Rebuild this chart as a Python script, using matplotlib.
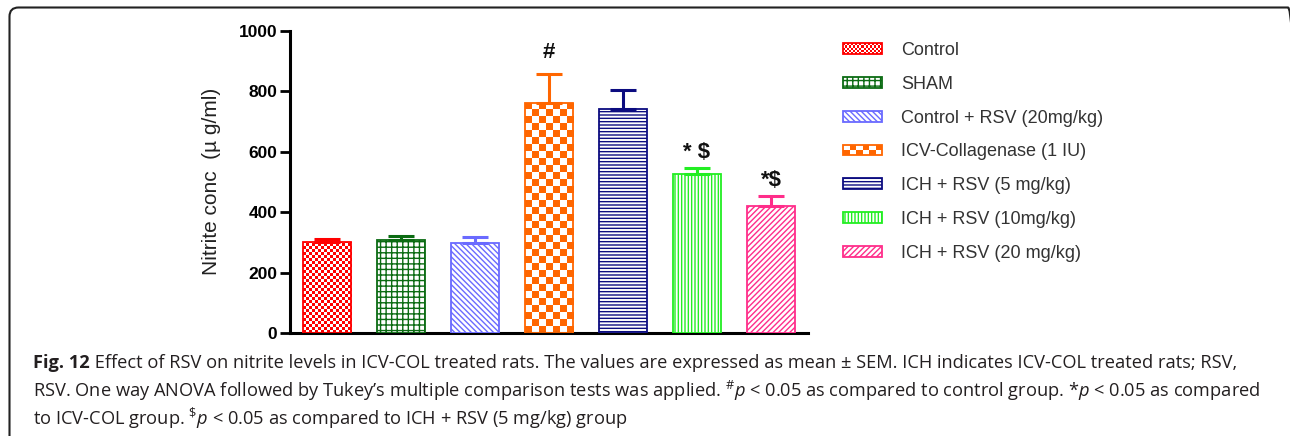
import numpy as np
import matplotlib
matplotlib.use("Agg")
import matplotlib.pyplot as plt
from matplotlib import font_manager
from matplotlib.colors import ListedColormap
from matplotlib.patches import Rectangle, FancyBboxPatch
from matplotlib.transforms import IdentityTransform
from matplotlib.legend_handler import HandlerBase

# ---- data -------------------------------------------------------------
groups = ["Control", "SHAM", "Control + RSV (20mg/kg)", "ICV-Collagenase (1 IU)",
          "ICH + RSV (5 mg/kg)", "ICH + RSV (10mg/kg)", "ICH + RSV (20 mg/kg)"]
nitrite_mean = [300, 308, 297, 760, 742, 527, 421]
nitrite_sem = [12, 13, 22, 97, 63, 18, 33]
sig_marks = ["", "", "", "#", "", "* $", "*$"]
y_ticks = [0, 200, 400, 600, 800, 1000]

caption_line1_bold = "Fig. 12"
caption_line1 = (" Effect of RSV on nitrite levels in ICV-COL treated rats. The values are "
                 "expressed as mean \u00b1 SEM. ICH indicates ICV-COL treated rats; RSV,")
caption_line2 = (r"RSV. One way ANOVA followed by Tukey’s multiple comparison tests was applied. "
                 r"$^{\#}p$ < 0.05 as compared to control group. *$p$ < 0.05 as compared")
caption_line3 = r"to ICV-COL group. $^{\$}p$ < 0.05 as compared to ICH + RSV (5 mg/kg) group"

# ---- styling ----------------------------------------------------------
colors = ["#ff0000", "#0b6b12", "#6a6aff", "#ff6600", "#0c0c80", "#22ee22", "#ff2d8a"]
hatches = [None, "+++", "\\" * 6, None, "-----", "|||||", "//////"]
checker_cell_px = {0: 3, 3: 7}      # bars filled with a checkerboard, cell size in px

plt.rcParams["font.family"] = ["Liberation Sans", "DejaVu Sans"]
plt.rcParams["hatch.linewidth"] = 1.0

names = {f.name for f in font_manager.fontManager.ttflist}
cap_font = next((n for n in ["Liberation Sans Narrow", "Open Sans"] if n in names), "DejaVu Sans")
plt.rcParams["mathtext.fontset"] = "custom"
plt.rcParams["mathtext.rm"] = cap_font
plt.rcParams["mathtext.it"] = cap_font + ":italic"
plt.rcParams["mathtext.bf"] = cap_font + ":bold"

W, H, DPI = 1290, 436, 100
fig = plt.figure(figsize=(W / DPI, H / DPI), dpi=DPI)
ax = fig.add_axes([290 / W, 1 - 333 / H, 518 / W, 302.3 / H])

x = np.arange(len(groups))
bar_width = 0.66
ax.set_xlim(-0.5, 6.5)
ax.set_ylim(0, 1000)

handles = []
for i in range(len(groups)):
    c = colors[i]
    checker = i in checker_cell_px
    bc = ax.bar(x[i], nitrite_mean[i], width=bar_width,
                facecolor="none" if checker else "white", edgecolor=c,
                hatch=hatches[i], linewidth=1.3, label=groups[i], zorder=3)
    handles.append(bc)
    ax.errorbar(x[i], nitrite_mean[i], yerr=[[0], [nitrite_sem[i]]], fmt="none",
                ecolor=c, elinewidth=2.2, capsize=9.5, capthick=2.2, zorder=4)

# checkerboard fills, clipped to their bars
px_x = ax.transData.transform((1, 0))[0] - ax.transData.transform((0, 0))[0]
px_y = ax.transData.transform((0, 1))[1] - ax.transData.transform((0, 0))[1]
for i, cell in checker_cell_px.items():
    bar = handles[i].patches[0]
    cw, ch = cell / px_x, cell / px_y
    nx = int(np.ceil(bar.get_width() / cw))
    ny = int(np.ceil(bar.get_height() / ch))
    pattern = np.add.outer(np.arange(ny), np.arange(nx)) % 2
    x0 = bar.get_x()
    im = ax.imshow(pattern, cmap=ListedColormap([colors[i], "white"]),
                   extent=(x0, x0 + nx * cw, 0, ny * ch), origin="lower",
                   interpolation="nearest", aspect="auto", zorder=2)
    im.set_clip_path(bar)

ax.set_xlim(-0.5, 6.5)
ax.set_ylim(0, 1000)

# significance marks above error bars
for i, mark in enumerate(sig_marks):
    if not mark:
        continue
    pad_px = 16 if mark == "#" else 10
    ax.annotate(mark, xy=(x[i], nitrite_mean[i] + nitrite_sem[i]),
                xytext=(0, pad_px * 72 / DPI), textcoords="offset points",
                ha="center", va="baseline", fontsize=16, fontweight="bold",
                color="#111111", zorder=5)

# axes
for side in ["top", "right"]:
    ax.spines[side].set_visible(False)
for side in ["left", "bottom"]:
    ax.spines[side].set_linewidth(2.2)
ax.set_xticks([])
ax.set_yticks(y_ticks)
ax.set_yticklabels([str(v) for v in y_ticks], fontweight="bold", fontsize=12.5)
ax.tick_params(axis="y", length=7, width=2, direction="out", pad=2)
ax.set_ylabel("Nitrite conc  (\u00b5 g/ml)", fontsize=15, color="#222222")
ax.yaxis.set_label_coords(-0.133, 0.5)


class HandlerChecker(HandlerBase):
    def __init__(self, color, cell_px):
        super().__init__()
        self.color = color
        self.cell_pt = cell_px * 72 / DPI

    def create_artists(self, legend, orig_handle, xdescent, ydescent,
                       width, height, fontsize, trans):
        x0, y0 = -xdescent, -ydescent
        nx = max(1, int(round(width / self.cell_pt)))
        ny = max(1, int(round(height / self.cell_pt)))
        cw, ch = width / nx, height / ny
        arts = []
        for r in range(ny):
            for q in range(nx):
                if (r + q) % 2 == 0:
                    arts.append(Rectangle((x0 + q * cw, y0 + r * ch), cw, ch,
                                          facecolor=self.color, edgecolor="none",
                                          transform=trans))
        arts.append(Rectangle((x0, y0), width, height, facecolor="none",
                              edgecolor=self.color, linewidth=1.3, transform=trans))
        return arts


hmap = {handles[i]: HandlerChecker(colors[i], max(2, checker_cell_px[i] - 1))
        for i in checker_cell_px}
fs_leg = 13
fs_px = fs_leg * DPI / 72
leg = ax.legend(handles=handles, labels=groups, handler_map=hmap,
                loc="upper left", bbox_to_anchor=(843 / W, 1 - 42 / H),
                bbox_transform=fig.transFigure, frameon=False, fontsize=fs_leg,
                handlelength=39 / fs_px, handleheight=10 / fs_px,
                handletextpad=19 / fs_px, labelspacing=0.93,
                borderpad=0, borderaxespad=0)
for t in leg.get_texts():
    t.set_color("#333333")

# caption below the chart
cap_color = "#231f20"
left_px = 33
cap_kw = dict(family=[cap_font, "DejaVu Sans"], color=cap_color, va="baseline")
renderer = fig.canvas.get_renderer()
t1b = fig.text(left_px / W, 1 - 368 / H, caption_line1_bold, fontsize=12,
               fontweight="bold", **cap_kw)
t1 = fig.text(0, 1 - 368 / H, caption_line1, fontsize=12, **cap_kw)
t2 = fig.text(left_px / W, 1 - 397 / H, caption_line2, fontsize=12, **cap_kw)
t3 = fig.text(left_px / W, 1 - 425 / H, caption_line3, fontsize=12, **cap_kw)
w1 = (t1b.get_window_extent(renderer).width + t1.get_window_extent(renderer).width)
w2 = t2.get_window_extent(renderer).width
cap_fs = 12 * ((1213 - left_px) + (1280 - left_px)) / (w1 + w2)
for t in (t1b, t1, t2, t3):
    t.set_fontsize(cap_fs)
wb = t1b.get_window_extent(renderer).width
t1.set_x((left_px + wb) / W)

# rounded frame around the figure panel
frame = FancyBboxPatch((9.5, -20), 1297 - 9.5, (H - 7.5) + 20,
                       boxstyle="round,pad=0,rounding_size=9",
                       transform=IdentityTransform(), fill=False,
                       edgecolor="#222222", linewidth=1.5)
fig.add_artist(frame)

fig.savefig("out.png", dpi=DPI)
